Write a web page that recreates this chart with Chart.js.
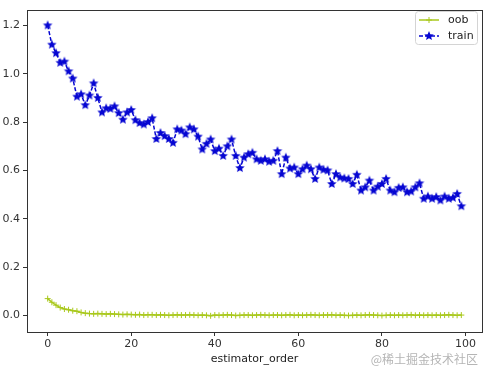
<!DOCTYPE html>
<html>
<head>
<meta charset="utf-8">
<script src="https://cdn.jsdelivr.net/npm/chart.js@4/dist/chart.umd.min.js"></script>
<style>
  html, body { margin: 0; padding: 0; background: #fff; }
  #wrap { position: relative; width: 490px; height: 373px; }
  #mark { position: absolute; right: 12px; bottom: 6px; font: 12px "Noto Sans CJK SC", sans-serif; color: #b5b5b5; }
</style>
</head>
<body>
<div id="wrap">
  <canvas id="grafico" width="490" height="373"></canvas>
  <div id="mark">@稀土掘金技术社区</div>
</div>
<script>
// valores
const trainValores = [
  1.20, 1.12, 1.085, 1.045, 1.05, 1.01, 0.98, 0.905, 0.915, 0.87,
  0.91, 0.96, 0.90, 0.84, 0.857, 0.855, 0.865, 0.837, 0.81, 0.84,
  0.85, 0.808, 0.796, 0.79, 0.80, 0.816, 0.73, 0.755, 0.742, 0.73,
  0.714, 0.77, 0.765, 0.75, 0.778, 0.77, 0.74, 0.687, 0.71, 0.728,
  0.68, 0.69, 0.66, 0.70, 0.728, 0.66, 0.61, 0.653, 0.667, 0.673,
  0.646, 0.64, 0.646, 0.636, 0.64, 0.68, 0.585, 0.653, 0.608, 0.612,
  0.585, 0.605, 0.62, 0.605, 0.565, 0.612, 0.603, 0.60, 0.544, 0.585,
  0.571, 0.567, 0.565, 0.544, 0.582, 0.517, 0.53, 0.558, 0.517, 0.533,
  0.544, 0.565, 0.517, 0.51, 0.528, 0.53, 0.51, 0.513, 0.53, 0.547,
  0.483, 0.492, 0.483, 0.49, 0.476, 0.492, 0.483, 0.487, 0.503, 0.452
];
const oobValores = [
  0.070, 0.055, 0.043, 0.033, 0.027, 0.024, 0.020, 0.018, 0.013, 0.010,
  0.008, 0.007, 0.008, 0.007, 0.006, 0.007, 0.006, 0.005, 0.004, 0.005,
  0.004, 0.003, 0.004, 0.002, 0.003, 0.003, 0.002, 0.003, 0.002, 0.001,
  0.002, 0.003, 0.002, 0.002, 0.003, 0.002, 0.001, 0.002, 0.001, -0.001,
  0.002, 0.001, 0.002, 0.003, 0.002, 0.000, 0.001, 0.002, 0.002, 0.001,
  0.002, 0.003, 0.002, 0.001, 0.002, 0.002, 0.001, 0.002, 0.003, 0.001,
  0.002, 0.001, 0.002, 0.003, 0.002, 0.001, 0.002, 0.002, 0.003, 0.001,
  0.002, 0.001, 0.000, 0.001, 0.002, 0.001, 0.002, 0.003, 0.002, 0.001,
  0.000, 0.001, 0.002, 0.001, 0.002, 0.001, 0.002, 0.003, 0.001, 0.002,
  0.001, 0.002, 0.001, 0.002, 0.001, 0.002, 0.003, 0.002, 0.001, 0.002
];
const ticksX = [0, 20, 40, 60, 80, 100];
const ticksY = [0.0, 0.2, 0.4, 0.6, 0.8, 1.0, 1.2];

const colorOob = '#a9c81c';
const colorTrain = '#0606d2';

// estrella rellena como en matplotlib '*'
function crearEstrella(r, color) {
    const c = document.createElement('canvas');
    const s = Math.ceil(r * 2 + 2);
    c.width = s; c.height = s;
    const g = c.getContext('2d');
    g.beginPath();
    for (let k = 0; k < 10; k++) {
        const rad = k % 2 === 0 ? r : r * 0.45;
        const a = -Math.PI / 2 + k * Math.PI / 5;
        const px = s / 2 + rad * Math.cos(a);
        const py = s / 2 + rad * Math.sin(a);
        if (k === 0) g.moveTo(px, py); else g.lineTo(px, py);
    }
    g.closePath();
    g.fillStyle = color;
    g.fill();
    return c;
}
const estrella = crearEstrella(5, colorTrain);

// marco completo y leyenda dentro del área
const marco = {
    id: 'marco',
    afterDraw(chart) {
        const { ctx, chartArea: a } = chart;
        ctx.save();
        ctx.strokeStyle = '#333';
        ctx.lineWidth = 1;
        ctx.strokeRect(Math.round(a.left) + 0.5, Math.round(a.top) + 0.5,
                       Math.round(a.right - a.left), Math.round(a.bottom - a.top));

        // leyenda
        const bx = 415.5, by = 11.5, bw = 62, bh = 33;
        ctx.fillStyle = 'rgba(255,255,255,0.85)';
        ctx.strokeStyle = '#d4d4d4';
        ctx.beginPath();
        ctx.roundRect(bx, by, bw, bh, 3);
        ctx.fill();
        ctx.stroke();

        ctx.lineWidth = 1.5;
        ctx.strokeStyle = colorOob;
        ctx.beginPath(); ctx.moveTo(419, 20); ctx.lineTo(439, 20); ctx.stroke();
        ctx.lineWidth = 1;
        ctx.beginPath(); ctx.moveTo(429, 17); ctx.lineTo(429, 23);
        ctx.moveTo(426, 20); ctx.lineTo(432, 20); ctx.stroke();

        ctx.lineWidth = 1.5;
        ctx.strokeStyle = colorTrain;
        ctx.setLineDash([4, 2]);
        ctx.beginPath(); ctx.moveTo(419, 36); ctx.lineTo(439, 36); ctx.stroke();
        ctx.setLineDash([]);
        ctx.drawImage(estrella, 429 - estrella.width / 2, 36 - estrella.height / 2);

        ctx.fillStyle = '#222';
        ctx.font = '11px "DejaVu Sans"';
        ctx.textBaseline = 'middle';
        ctx.fillText('oob', 448, 20);
        ctx.fillText('train', 448, 36);
        ctx.restore();
    }
};

const ctx = document.getElementById('grafico').getContext('2d');
new Chart(ctx, {
    type: 'line',
    data: {
        datasets: [
            {
                label: 'oob',
                data: oobValores.map((v, i) => ({ x: i, y: v })),
                borderColor: colorOob,
                borderWidth: 1.5,
                pointStyle: 'cross',
                pointRadius: 3,
                pointBorderColor: colorOob,
                pointBorderWidth: 1,
                tension: 0
            },
            {
                label: 'train',
                data: trainValores.map((v, i) => ({ x: i, y: v })),
                borderColor: colorTrain,
                borderWidth: 1.5,
                borderDash: [4, 2],
                pointStyle: estrella,
                pointRadius: 4,
                tension: 0
            }
        ]
    },
    options: {
        responsive: false,
        animation: false,
        layout: { padding: { top: 6, right: 8, left: 0, bottom: 7 } },
        plugins: {
            legend: { display: false },
            tooltip: { enabled: false }
        },
        scales: {
            x: {
                type: 'linear',
                min: -4.95,
                max: 103.95,
                afterBuildTicks: s => { s.ticks = ticksX.map(v => ({ value: v })); },
                afterFit: s => { s.height = 34; },
                grid: { display: true, drawOnChartArea: false, tickLength: 4, color: '#333' },
                border: { display: false },
                ticks: { color: '#333', font: { family: 'DejaVu Sans', size: 11 }, padding: 2, maxRotation: 0 },
                title: { display: true, text: 'estimator_order', color: '#222',
                         font: { family: 'DejaVu Sans', size: 11 }, padding: { top: 1, bottom: 0 } }
            },
            y: {
                min: -0.068,
                max: 1.265,
                afterBuildTicks: s => { s.ticks = ticksY.map(v => ({ value: v })); },
                afterFit: s => { s.width = 27; },
                grid: { display: true, drawOnChartArea: false, tickLength: 4, color: '#333' },
                border: { display: false },
                ticks: { color: '#333', font: { family: 'DejaVu Sans', size: 11 }, padding: 3,
                         callback: v => v.toFixed(1) }
            }
        }
    },
    plugins: [marco]
});
</script>
</body>
</html>
